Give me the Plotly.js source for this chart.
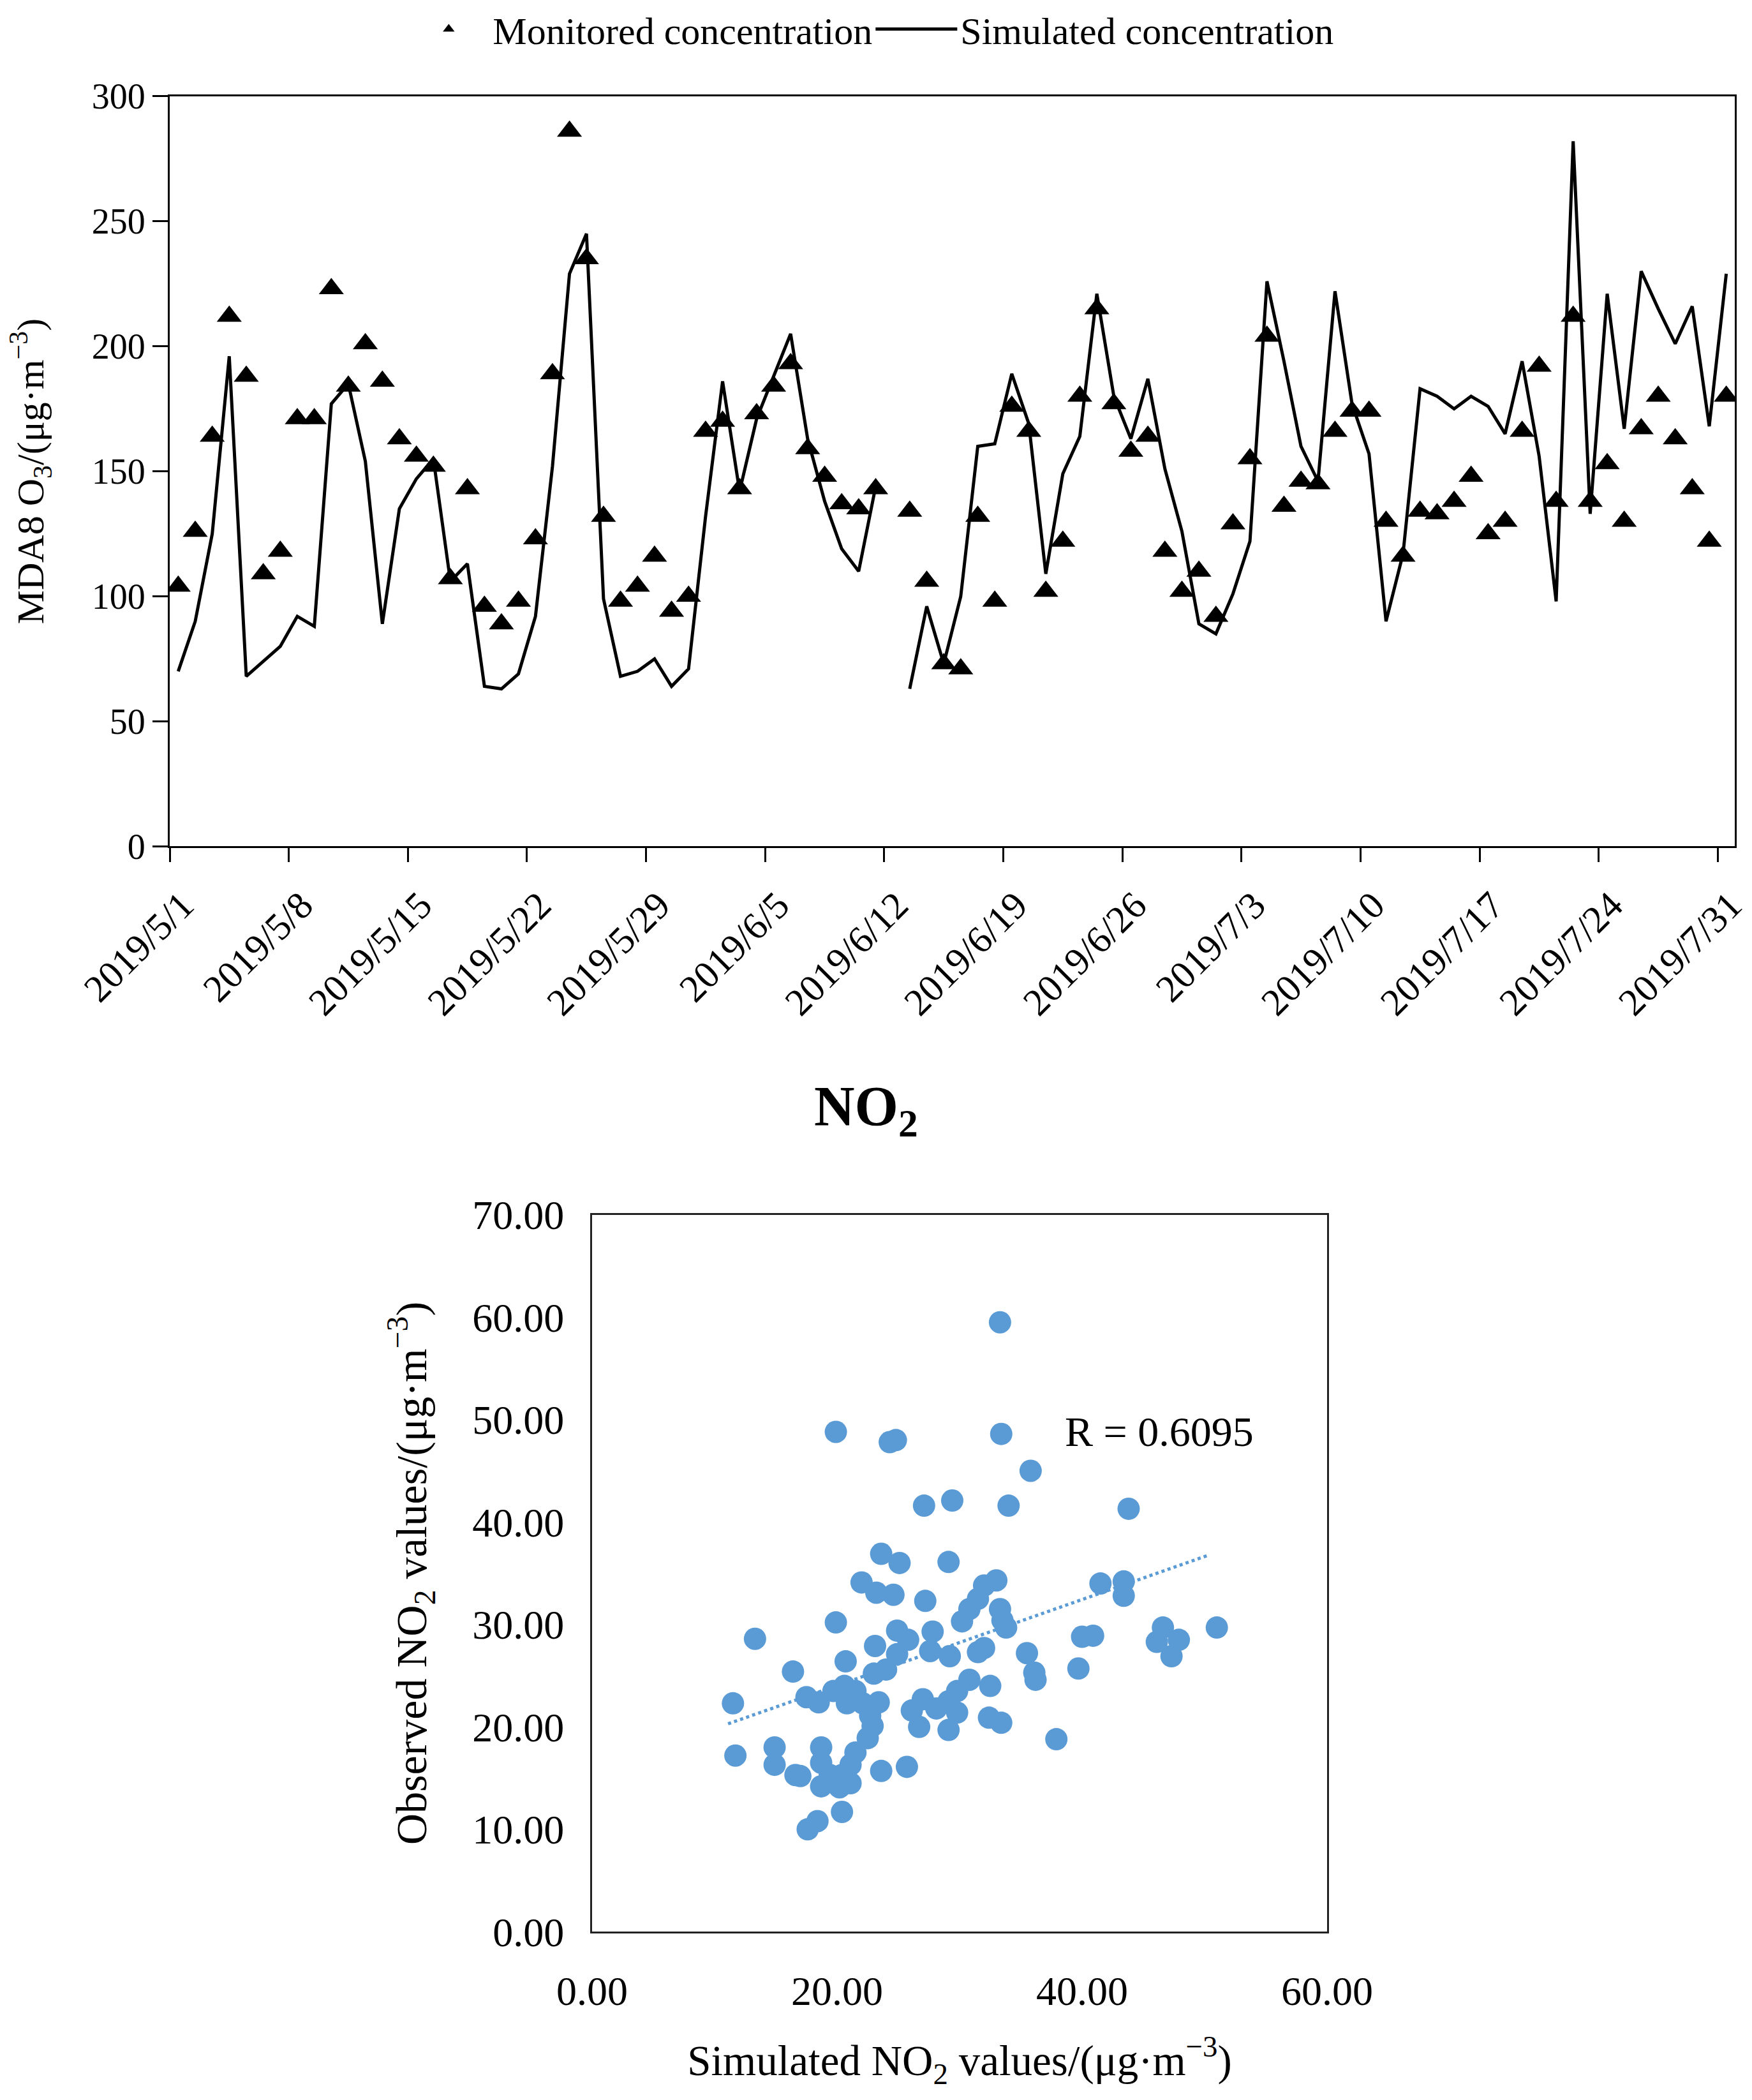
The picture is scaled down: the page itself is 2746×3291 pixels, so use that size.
<!DOCTYPE html>
<html>
<head>
<meta charset="utf-8">
<script src="https://cdn.plot.ly/plotly-3.0.1.min.js"></script>
<style>html,body{margin:0;padding:0;background:#fff;}#chart{width:2746px;height:3291px;}</style>
</head>
<body>
<div id="chart"></div>
<script>
// ---------- Top chart data: MDA8 O3, 2019-05-01 .. 2019-07-31 ----------
const startDate = '2019-05-01';
const nDays = 92;
const monitored = [104,126,164,212,188,109,118,171,171,223,184,201,186,163,156,152,107,143,96,89,98,123,189,286,235,132,98,104,116,94,100,166,170,143,173,184,193,159,148,137,135,143,null,134,106,73,71,132,98,176,166,102,122,180,215,177,158,164,118,102,110,92,129,155,204,136,146,145,166,174,174,130,116,134,133,138,148,125,130,166,192,138,212,138,153,130,167,180,163,143,122,180];
const simulated = [70,90,125,196,68,74,80,92,88,177,185,154,89,135,147,155,106,113,64,63,69,92,152,229,245,99,68,70,75,64,71,132,186,142,171,188,205,163,138,119,110,144,null,63,96,73,100,160,161,189,169,109,149,164,221,180,163,187,151,126,89,85,101,122,226,194,160,146,222,177,157,90,117,183,180,175,180,176,165,194,156,98,282,133,221,167,230,215,201,216,168,229];
const tickDates = ['2019-05-01','2019-05-08','2019-05-15','2019-05-22','2019-05-29','2019-06-05','2019-06-12','2019-06-19','2019-06-26','2019-07-03','2019-07-10','2019-07-17','2019-07-24','2019-07-31'];
const tickLabels = ['2019/5/1','2019/5/8','2019/5/15','2019/5/22','2019/5/29','2019/6/5','2019/6/12','2019/6/19','2019/6/26','2019/7/3','2019/7/10','2019/7/17','2019/7/24','2019/7/31'];

// ---------- Bottom chart data: NO2 scatter ----------
const simNO2 = [11.5,11.7,13.3,14.9,14.9,16.4,16.6,17.0,17.5,17.6,18.4,18.5,18.7,18.7,19.4,18.7,19.9,19.9,20.4,20.7,19.7,20.6,21.5,20.8,22.1,22.7,23.4,22.9,22.5,21.5,21.1,20.4,20.2,21.1,23.6,25.7,23.1,23.0,24.0,23.6,25.1,22.0,23.2,24.6,24.3,24.8,27.1,29.4,29.1,27.2,24.9,25.8,24.9,27.8,27.6,29.2,30.2,30.8,31.5,32.0,31.5,30.8,29.8,29.1,28.1,27.0,26.1,26.7,29.1,29.8,32.5,32.4,33.4,33.3,33.4,35.8,34.0,43.8,33.0,33.3,33.5,33.8,41.5,43.4,43.4,46.6,46.1,47.9,47.3,51.0,40.0,40.9,39.7,35.5,36.1,36.2,37.9,32.0];
const obsNO2 = [22.3,17.2,28.6,18.0,16.3,25.4,15.3,15.2,22.9,10.0,10.8,22.4,18.0,14.2,15.3,16.5,48.8,30.2,11.7,26.4,23.5,24.0,23.5,22.3,22.3,21.1,22.4,20.1,18.9,17.5,16.3,15.3,14.1,14.5,15.7,16.1,27.9,25.2,25.6,36.9,36.0,34.1,33.1,32.9,47.8,48.0,41.6,42.1,36.1,32.3,29.4,28.5,27.1,29.3,27.4,26.9,30.3,31.5,32.5,33.8,27.3,24.6,23.5,22.5,21.8,22.7,21.6,20.0,19.7,21.4,24.0,20.9,20.4,59.5,48.6,45.0,41.6,41.3,34.3,31.5,30.4,29.7,34.0,34.2,32.8,29.7,28.3,28.5,26.9,29.7,28.8,28.9,25.7,27.2,25.3,24.6,18.8,27.7];
const trendX = [11.1, 50.4];
const trendY = [20.3, 36.8];
const rLabel = 'R = 0.6095';

// build the daily date categories
const dates = [];
{
  const d0 = new Date(startDate + 'T00:00:00Z');
  for (let i = 0; i < nDays; i++) {
    const d = new Date(d0.getTime() + i * 86400000);
    dates.push(d.toISOString().slice(0, 10));
  }
}

const SERIF = "Liberation Serif, Times New Roman, serif";
const blue = '#5B9BD5';

const traces = [
  {
    x: dates, y: monitored, type: 'scatter', mode: 'markers',
    name: 'Monitored concentration',
    xperiod: 86400000, xperiodalignment: 'middle',
    marker: {symbol: 'triangle-up', size: 34, color: '#000'},
    xaxis: 'x', yaxis: 'y'
  },
  {
    x: dates, y: simulated, type: 'scatter', mode: 'lines',
    name: 'Simulated concentration',
    xperiod: 86400000, xperiodalignment: 'middle',
    connectgaps: false,
    line: {color: '#000', width: 5},
    xaxis: 'x', yaxis: 'y'
  },
  {
    x: simNO2, y: obsNO2, type: 'scatter', mode: 'markers',
    marker: {color: blue, size: 35},
    showlegend: false, xaxis: 'x2', yaxis: 'y2'
  },
  {
    x: trendX, y: trendY, type: 'scatter', mode: 'lines',
    line: {color: blue, width: 5, dash: 'dot'},
    showlegend: false, xaxis: 'x2', yaxis: 'y2'
  }
];

const layout = {
  width: 2746, height: 3291,
  margin: {l: 0, r: 0, t: 0, b: 0},
  paper_bgcolor: '#fff', plot_bgcolor: '#fff',
  font: {family: SERIF, color: '#000', size: 56},
  showlegend: true,
  legend: {
    orientation: 'h', x: 0.231, xanchor: 'left', y: 0.9875, yanchor: 'middle',
    font: {family: SERIF, size: 60, color: '#000'},
    itemwidth: 128,
    entrywidth: 590, entrywidthmode: 'pixels',
    bgcolor: 'rgba(0,0,0,0)'
  },
  xaxis: {
    domain: [266/2746, 2719/2746], anchor: 'y',
    type: 'date', range: ['2019-05-01', '2019-08-01'],
    tickmode: 'array', tickvals: tickDates, ticktext: tickLabels,
    tickangle: -45, ticks: 'outside', ticklen: 22, tickwidth: 3, tickcolor: '#000',
    ticklabelshift: 20, ticklabelstandoff: 8,
    showline: true, linecolor: '#000', linewidth: 3, mirror: true,
    showgrid: false, zeroline: false,
    tickfont: {family: SERIF, size: 60, color: '#000'}
  },
  yaxis: {
    domain: [1 - 1324/3291, 1 - 147/3291], anchor: 'x',
    range: [0, 300], dtick: 50, tick0: 0,
    ticks: 'outside', ticklen: 24, tickwidth: 3, tickcolor: '#000',
    showline: true, linecolor: '#000', linewidth: 3, mirror: true,
    showgrid: false, zeroline: false,
    tickfont: {family: SERIF, size: 56, color: '#000'},
    title: {text: 'MDA8 O<sub>3</sub>/(μg·m<sup>−3</sup>)', font: {family: SERIF, size: 60, color: '#000'}, standoff: 56}
  },
  xaxis2: {
    domain: [928/2746, 2080/2746], anchor: 'y2',
    range: [0, 60], dtick: 20, tick0: 0, tickformat: '.2f',
    ticks: '', ticklabelstandoff: 35,
    showline: true, linecolor: '#222', linewidth: 3, mirror: true,
    showgrid: false, zeroline: false,
    tickfont: {family: SERIF, size: 64, color: '#000'},
    title: {text: 'Simulated NO<sub>2</sub> values/(μg·m<sup>−3</sup>)', font: {family: SERIF, size: 67, color: '#000'}, standoff: 50}
  },
  yaxis2: {
    domain: [1 - 3027/3291, 1 - 1902/3291], anchor: 'x2',
    range: [0, 70], dtick: 10, tick0: 0, tickformat: '.2f',
    ticks: '', ticklabelstandoff: 28,
    showline: true, linecolor: '#222', linewidth: 3, mirror: true,
    showgrid: false, zeroline: false,
    tickfont: {family: SERIF, size: 64, color: '#000'},
    title: {text: 'Observed NO<sub>2</sub> values/(μg·m<sup>−3</sup>)', font: {family: SERIF, size: 68, color: '#000'}, standoff: 50}
  },
  annotations: [
    {
      text: '<b>NO<sub>2</sub></b>', xref: 'paper', yref: 'paper',
      x: 1357/2746, y: 1 - 1738/3291, xanchor: 'center', yanchor: 'middle',
      showarrow: false, font: {family: SERIF, size: 88, color: '#000'}
    },
    {
      text: rLabel, xref: 'x2', yref: 'y2', x: 46.3, y: 48.8,
      xanchor: 'center', yanchor: 'middle', showarrow: false,
      font: {family: SERIF, size: 66, color: '#000'}
    }
  ]
};

Plotly.newPlot('chart', traces, layout, {staticPlot: true, displayModeBar: false});
</script>
</body>
</html>
